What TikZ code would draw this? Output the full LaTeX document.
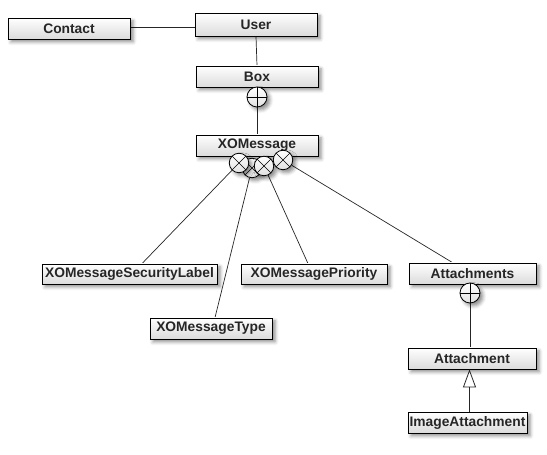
\documentclass[tikz,border=0pt]{standalone}
\usepackage{fontspec}
\setmainfont{Liberation Sans}
\usetikzlibrary{shadows.blur,arrows.meta}
\pgfdeclarelayer{bg}
\pgfsetlayers{bg,main}
\begin{document}
\begin{tikzpicture}[x=1pt,y=1pt,
  shd/.style={blur shadow={shadow xshift=3pt, shadow yshift=-3pt, shadow blur radius=3.5pt, shadow opacity=45}},
  cls/.style={draw=black, line width=0.8pt, top color=white, bottom color=black!14,
    minimum height=21pt, inner sep=0pt, font=\fontsize{13.8}{14}\selectfont\bfseries,
    text=black!85, shd},
  conn/.style={line width=0.7pt, draw=black!85},
  comp/.style={circle, draw=black, line width=0.8pt, minimum size=20pt, inner sep=0pt,
    top color=white, bottom color=black!12, shd},
  pluscirc/.style={comp, path picture={
    \draw[line width=0.7pt] (path picture bounding box.north) -- (path picture bounding box.south);
    \draw[line width=0.7pt] (path picture bounding box.west) -- (path picture bounding box.east);}},
  xcirc/.style={comp, minimum size=19.5pt, path picture={
    \draw[line width=0.6pt] ([shift={(-7,-7)}]path picture bounding box.center) -- ++(14,14);
    \draw[line width=0.6pt] ([shift={(-7,7)}]path picture bounding box.center) -- ++(14,-14);}}
]
\useasboundingbox (0,0) rectangle (547,455);

\node[cls, minimum width=122pt] (contact) at (69,426.5) {Contact};
\node[cls, minimum width=122pt, minimum height=23pt] (user) at (256,430.5) {User};
\node[cls, minimum width=122pt] (box) at (257,378.5) {Box};
\node[cls, minimum width=122pt] (xom) at (257,309.5) {XOMessage};
\node[cls, minimum width=175pt, minimum height=20pt] (sl) at (129.5,181) {XOMessageSecurityLabel};
\node[cls, minimum width=146pt, minimum height=20pt] (prio) at (314,181) {XOMessagePriority};
\node[cls, minimum width=122pt] (type) at (211,126.5) {XOMessageType};
\node[cls, minimum width=127pt] (atts) at (472.5,181.5) {Attachments};
\node[cls, minimum width=128pt] (att) at (472,96.5) {Attachment};
\node[cls, minimum width=119pt] (img) at (467.5,32.5) {ImageAttachment};

\node[pluscirc] (boxc) at (257,358) {};
\node[pluscirc] (attsc) at (470,162) {};
\node[xcirc] (ch) at (252,287) {};
\node[xcirc] (c1) at (239,292) {};
\node[xcirc] (c2) at (264,289) {};
\node[xcirc] (c3) at (283,295) {};

\begin{pgfonlayer}{bg}
\draw[conn] ([yshift=1.5pt]contact.east) -- ([yshift=1.5pt]contact.east -| user.west);
\draw[conn] (user.south) -- (box.north);
\draw[conn] (boxc) -- (xom.north);
\draw[conn] (c1) -- ([xshift=12.5pt]sl.north);
\draw[conn] (ch) -- ([xshift=4pt]type.north);
\draw[conn] (c2) -- ([xshift=-6pt]prio.north);
\draw[conn] (c3) -- ([xshift=-20pt]atts.north);
\draw[conn] (attsc) -- (attsc |- att.north);
\end{pgfonlayer}
\draw[conn, -{Triangle[width=13pt, length=18pt, fill=white, line width=0.8pt]}]
  ([xshift=2pt]img.north) -- ([xshift=2pt]img.north |- att.south);
\end{tikzpicture}
\end{document}
